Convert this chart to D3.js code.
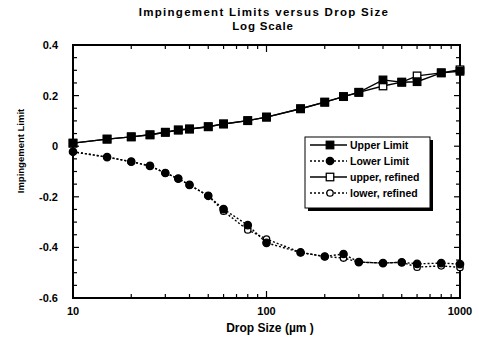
<!DOCTYPE html>
<html>
<head>
<meta charset="utf-8">
<script src="https://cdn.jsdelivr.net/npm/d3@7"></script>
<style>
  html, body { margin: 0; padding: 0; background: #fff; }
  svg { display: block; }
  text { font-family: "Liberation Sans", Arial, Helvetica, sans-serif; font-weight: bold; fill: #000; }
</style>
</head>
<body>
<script>
// Drop sizes (µm) shared by all four series
const dropSizes = [10, 15, 20, 25, 30, 35, 40, 50, 60, 80, 100, 150, 200, 250, 300, 400, 500, 600, 800, 1000];

const upperLimit = [0.012, 0.028, 0.037, 0.045, 0.055, 0.064, 0.068, 0.077, 0.088, 0.101, 0.115, 0.148, 0.174, 0.196, 0.213, 0.262, 0.253, 0.255, 0.290, 0.296];
const lowerLimit = [-0.022, -0.043, -0.061, -0.078, -0.106, -0.128, -0.153, -0.196, -0.249, -0.312, -0.382, -0.420, -0.436, -0.426, -0.458, -0.462, -0.459, -0.465, -0.462, -0.466];
const upperRefined = [0.012, 0.028, 0.037, 0.045, 0.055, 0.064, 0.068, 0.077, 0.088, 0.101, 0.115, 0.148, 0.174, 0.196, 0.213, 0.238, 0.253, 0.278, 0.290, 0.302];
const lowerRefined = [-0.022, -0.043, -0.061, -0.078, -0.106, -0.128, -0.153, -0.196, -0.257, -0.331, -0.367, -0.420, -0.436, -0.442, -0.458, -0.462, -0.459, -0.478, -0.473, -0.479];

const seriesNames = ["Upper Limit", "Lower Limit", "upper, refined", "lower, refined"];
const yTickValues = [0.4, 0.2, 0, -0.2, -0.4, -0.6];
const yTickLabels = ["0.4", "0.2", "0", "-0.2", "-0.4", "-0.6"];
const xTickValues = [10, 100, 1000];
const xTickLabels = ["10", "100", "1000"];

const W = 479, H = 339;
const svg = d3.select("body").append("svg").attr("width", W).attr("height", H);

const x = d3.scaleLog().domain([10, 1000]).range([73, 460]);
const y = d3.scaleLinear().domain([-0.6, 0.4]).range([298, 45]);

// Series styling: line dash + marker kind
const series = [
  { name: seriesNames[0], values: upperLimit, dash: null, marker: "square", filled: true },
  { name: seriesNames[1], values: lowerLimit, dash: "2,2", marker: "circle", filled: true },
  { name: seriesNames[2], values: upperRefined, dash: null, marker: "square", filled: false },
  { name: seriesNames[3], values: lowerRefined, dash: "2,2", marker: "circle", filled: false }
];

// Two-line title
svg.append("text").attr("x", 264).attr("y", 16).attr("text-anchor", "middle")
  .attr("font-size", 11.5).attr("letter-spacing", 1.3)
  .text("Impingement Limits versus Drop Size");
svg.append("text").attr("x", 263).attr("y", 29.5).attr("text-anchor", "middle")
  .attr("font-size", 11.5).attr("letter-spacing", 0.8)
  .text("Log Scale");

// Inward ticks on all four sides
const [x0, x1] = x.range();
const [yb, yt] = y.range();
const tickG = svg.append("g").attr("stroke", "#000").attr("stroke-width", 1.2);

const yMinor = d3.range(-12, 9).map(k => k * 0.05);
yMinor.forEach((v, k) => {
  const major = (k % 4) === 0;
  const len = major ? 6 : 4;
  tickG.append("line").attr("x1", x0).attr("x2", x0 + len).attr("y1", y(v)).attr("y2", y(v));
  tickG.append("line").attr("x1", x1).attr("x2", x1 - len).attr("y1", y(v)).attr("y2", y(v));
});

x.ticks().forEach(v => {
  const major = xTickValues.includes(v);
  const len = major ? 7 : 4;
  tickG.append("line").attr("x1", x(v)).attr("x2", x(v)).attr("y1", yb).attr("y2", yb - len);
  tickG.append("line").attr("x1", x(v)).attr("x2", x(v)).attr("y1", yt).attr("y2", yt + len);
});

// Frame
svg.append("rect").attr("x", x0).attr("y", yt).attr("width", x1 - x0).attr("height", yb - yt)
  .attr("fill", "none").attr("stroke", "#000").attr("stroke-width", 2);

// Tick labels
svg.append("g").selectAll("text").data(yTickValues).join("text")
  .attr("x", 58).attr("y", d => y(d) + 4).attr("text-anchor", "end")
  .attr("font-size", 11).text((d, i) => yTickLabels[i]);
svg.append("g").selectAll("text").data(xTickValues).join("text")
  .attr("x", d => x(d)).attr("y", 315).attr("text-anchor", "middle")
  .attr("font-size", 11).text((d, i) => xTickLabels[i]);

// Axis titles
svg.append("text").attr("x", 270).attr("y", 332).attr("text-anchor", "middle")
  .attr("font-size", 12).text("Drop Size (µm )");
svg.append("text").attr("transform", "translate(24,151) rotate(-90)").attr("text-anchor", "middle")
  .attr("font-size", 9.5).text("Impingement Limit");

// Markers
function drawMarker(g, kind, filled, cx, cy) {
  if (kind === "square") {
    const s = 7.5;
    g.append("rect").attr("x", cx - s / 2).attr("y", cy - s / 2).attr("width", s).attr("height", s)
      .attr("fill", filled ? "#000" : "#fff").attr("stroke", "#000").attr("stroke-width", 1.3);
  } else {
    g.append("circle").attr("cx", cx).attr("cy", cy).attr("r", filled ? 3.7 : 3.2)
      .attr("fill", filled ? "#000" : "#fff").attr("stroke", "#000").attr("stroke-width", 1.3);
  }
}

const line = d3.line().x(d => x(d[0])).y(d => y(d[1]));
const plot = svg.append("g");
series.forEach(s => {
  const pts = dropSizes.map((d, i) => [d, s.values[i]]);
  plot.append("path").attr("d", line(pts)).attr("fill", "none").attr("stroke", "#000")
    .attr("stroke-width", 1.4).attr("stroke-dasharray", s.dash);
});
// Open (refined) markers underneath, filled markers on top
[2, 3, 0, 1].forEach(k => {
  const s = series[k];
  const g = plot.append("g");
  dropSizes.forEach((d, i) => drawMarker(g, s.marker, s.filled, x(d), y(s.values[i])));
});

// Legend with drop shadow
const lg = svg.append("g");
const lx = 305, ly = 137, lw = 125, lh = 71;
lg.append("rect").attr("x", lx + 3).attr("y", ly + 3).attr("width", lw).attr("height", lh).attr("fill", "#000");
lg.append("rect").attr("x", lx).attr("y", ly).attr("width", lw).attr("height", lh)
  .attr("fill", "#fff").attr("stroke", "#000").attr("stroke-width", 1);
const rowY = [145, 161, 177, 193];
series.forEach((s, i) => {
  lg.append("line").attr("x1", 310).attr("x2", 347).attr("y1", rowY[i]).attr("y2", rowY[i])
    .attr("stroke", "#000").attr("stroke-width", 1.4).attr("stroke-dasharray", s.dash);
  drawMarker(lg, s.marker, s.filled, 330, rowY[i]);
  lg.append("text").attr("x", 350).attr("y", rowY[i] + 4).attr("font-size", 10.5)
    .attr("fill", i === 1 ? "#555" : "#000").attr("font-weight", i === 1 ? "normal" : "bold")
    .text(s.name);
});
</script>
</body>
</html>
